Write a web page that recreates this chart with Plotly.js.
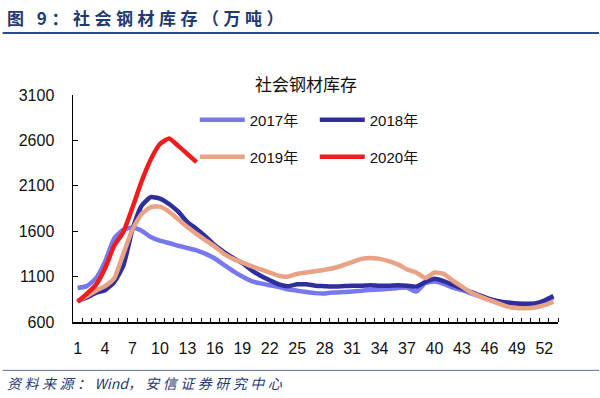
<!DOCTYPE html>
<html>
<head>
<meta charset="utf-8">
<script src="https://cdn.plot.ly/plotly-3.0.1.min.js"></script>
<style>
html,body{margin:0;padding:0;background:#fff;}
#chart{width:600px;height:398px;}
</style>
</head>
<body>
<div id="chart"></div>
<script>
// ---- data ----
const weeks = [1,2,3,4,5,6,7,8,9,10,11,12,13,14,15,16,17,18,19,20,21,22,23,24,25,26,27,28,29,30,31,32,33,34,35,36,37,38,39,40,41,42,43,44,45,46,47,48,49,50,51,52,53];
const s2017 = [975,995,1080,1265,1520,1615,1640,1605,1535,1495,1470,1440,1415,1390,1350,1300,1230,1160,1100,1050,1025,1005,985,960,945,930,918,915,925,930,935,945,952,958,965,975,980,935,1030,1045,1020,980,950,915,880,850,825,810,800,795,800,825,870];
const s2018 = [830,870,920,950,1040,1220,1620,1880,1975,1960,1900,1815,1700,1625,1540,1445,1370,1305,1250,1170,1110,1060,1015,995,1015,1015,1000,995,990,995,1000,1000,1005,1000,1000,1005,1000,990,1040,1075,1050,1010,970,930,890,855,830,815,805,800,805,835,885];
const s2019 = [830,885,945,995,1080,1350,1620,1790,1865,1870,1815,1730,1645,1570,1500,1430,1350,1295,1255,1215,1180,1145,1110,1100,1130,1145,1160,1175,1195,1225,1260,1295,1305,1295,1270,1235,1180,1145,1085,1145,1130,1055,990,925,880,840,805,770,755,752,760,785,825];
const s2020 = [822,910,1010,1190,1440,1590,1860,2150,2390,2560,2620,2540,2450,2360];
const seriesNames = ['2017年','2018年','2019年','2020年'];
const xTickVals = [1,4,7,10,13,16,19,22,25,28,31,34,37,40,43,46,49,52];
const yTickVals = [600,1100,1600,2100,2600,3100];
const chartTitle = '社会钢材库存';
const headerText = '图 9：社会钢材库存（万吨）';
const sourceLabel = '资料来源：';
const sourceWind = 'Wind';
const sourceRest = '，安信证券研究中心';

// ---- style ----
const colors = ['#7878EE','#2E2E9C','#E9A284','#EE1C1C'];
const FONT = 'Liberation Sans, Arial, Noto Sans CJK SC, sans-serif';
const CJK = 'Noto Sans CJK SC, Liberation Sans, sans-serif';

const minorVals = [];
for (let i = 0; i < weeks.length; i++) minorVals.push(weeks[i] + 0.5);

const allSeries = [s2017, s2018, s2019, s2020];
const legends = ['legend','legend','legend2','legend2'];
const traces = allSeries.map((s, i) => ({
  x: weeks.slice(0, s.length),
  y: s,
  name: seriesNames[i],
  type: 'scatter',
  mode: 'lines',
  line: {color: colors[i], width: 4.5, shape: 'spline', smoothing: 0.5},
  legend: legends[i],
  hoverinfo: 'skip'
}));

const L = 73.3, R = 558, T = 95, B = 321.7;
const W = R - L, H = B - T;
const px = v => (v - L) / W;
const py = v => (B - v) / H;

const legendCommon = {
  orientation: 'h',
  xref: 'paper', yref: 'paper',
  xanchor: 'left', yanchor: 'middle',
  bgcolor: 'rgba(0,0,0,0)',
  borderwidth: 0,
  font: {family: FONT, size: 15, color: '#111'},
  itemwidth: 45,
  entrywidth: 60,
  entrywidthmode: 'pixels',
  traceorder: 'normal'
};

const layout = {
  width: 600, height: 398,
  margin: {l: L, r: 600 - R, t: T, b: 398 - B, pad: 0},
  paper_bgcolor: '#fff', plot_bgcolor: '#fff',
  showlegend: true,
  title: {text: chartTitle, x: 306/600, y: 1 - 85/398, xref: 'container', yref: 'container',
          xanchor: 'center', yanchor: 'middle', font: {family: CJK, size: 17, color: '#111'}},
  xaxis: {
    range: [0.5, 53.5], tickmode: 'array', tickvals: xTickVals, ticktext: xTickVals.map(String),
    ticks: '', showgrid: false, zeroline: false,
    showline: true, linecolor: '#000', linewidth: 1.5,
    tickfont: {family: FONT, size: 16, color: '#111'}, ticklabelstandoff: 11,
    minor: {tickmode: 'array', tickvals: minorVals, ticks: 'inside', ticklen: 4, tickwidth: 1, tickcolor: '#000', showgrid: false}
  },
  yaxis: {
    range: [600, 3100], tickmode: 'array', tickvals: yTickVals, ticktext: yTickVals.map(String),
    ticks: 'inside', ticklen: 5, tickwidth: 1.2, tickcolor: '#000',
    showgrid: false, zeroline: false,
    showline: true, linecolor: '#000', linewidth: 1.5,
    tickfont: {family: FONT, size: 16, color: '#111'}, ticklabelstandoff: 14
  },
  legend: Object.assign({}, legendCommon, {x: px(195), y: py(120)}),
  legend2: Object.assign({}, legendCommon, {x: px(195), y: py(157)}),
  shapes: [
    {type: 'line', xref: 'paper', yref: 'paper', x0: px(3), x1: px(599), y0: py(33), y1: py(33),
     line: {color: '#2B4C8C', width: 2}},
    {type: 'line', xref: 'paper', yref: 'paper', x0: px(3), x1: px(599), y0: py(370), y1: py(370),
     line: {color: '#5470A0', width: 1}}
  ],
  annotations: [
    {text: '<b><span style="letter-spacing:4.5px">' + headerText + '</span></b>', xref: 'paper', yref: 'paper',
     x: px(5), y: py(17.5), xanchor: 'left', yanchor: 'middle', showarrow: false,
     font: {family: CJK, size: 17, color: '#1F3A70'}},
    {text: '<i><span style="letter-spacing:3.5px">' + sourceLabel + '</span>' + sourceWind +
           '<span style="letter-spacing:3.5px">' + sourceRest + '</span></i>', xref: 'paper', yref: 'paper',
     x: px(5), y: py(383), xanchor: 'left', yanchor: 'middle', showarrow: false,
     font: {family: CJK, size: 14, color: '#1F3A70'}}
  ]
};

Plotly.newPlot('chart', traces, layout, {displayModeBar: false, staticPlot: true});
</script>
</body>
</html>
